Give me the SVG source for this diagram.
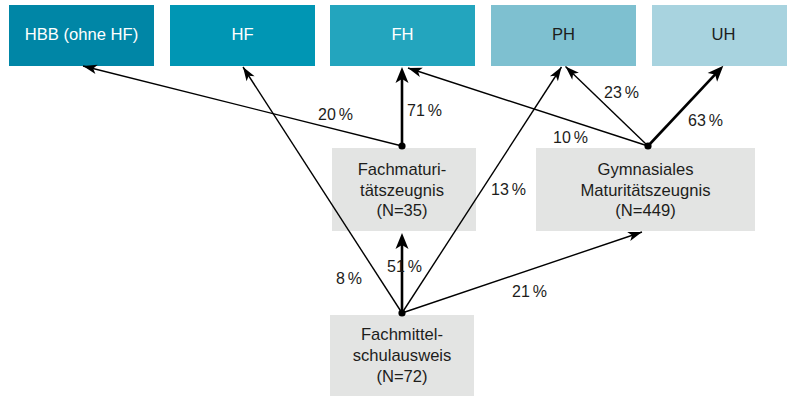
<svg xmlns="http://www.w3.org/2000/svg" width="787" height="396" viewBox="0 0 787 396">
<style>
  text { font-family: "Liberation Sans", Arial, sans-serif; font-size: 16.6px; text-anchor: middle; fill: #1d1d1b; }
  .w { fill: #ffffff; }
  .lbl { font-size: 16px; text-anchor: start; word-spacing: -1.5px; }
  .box { fill: #e3e4e3; }
  .thin { stroke: #000; stroke-width: 1.4; fill: none; marker-end: url(#ah); }
  .bold { stroke: #000; stroke-width: 2.6; fill: none; marker-end: url(#ahb); }
</style>
<defs>
  <marker id="ah" markerUnits="userSpaceOnUse" markerWidth="20" markerHeight="14" viewBox="0 -7 16 14" refX="14" refY="0" orient="auto" overflow="visible">
    <path d="M0,-4.8 L14,0 L0,4.8 L3.5,0 z" fill="#000"/>
  </marker>
  <marker id="ahb" markerUnits="userSpaceOnUse" markerWidth="24" markerHeight="18" viewBox="0 -9 20 18" refX="11" refY="0" orient="auto" overflow="visible">
    <path d="M0,-6.5 L16,0 L0,6.5 L4,0 z" fill="#000"/>
  </marker>
</defs>

<g id="node-hbb">
  <rect x="9" y="5" width="145" height="61" fill="#0086a6"/>
  <text class="w" x="81.5" y="40">HBB (ohne HF)</text>
</g>
<g id="node-hf">
  <rect x="170" y="5" width="145" height="61" fill="#0096b4"/>
  <text class="w" x="242.5" y="40">HF</text>
</g>
<g id="node-fh">
  <rect x="330" y="5" width="145" height="61" fill="#23a5be"/>
  <text class="w" x="402.5" y="40">FH</text>
</g>
<g id="node-ph">
  <rect x="491" y="5" width="145" height="61" fill="#7ec0d0"/>
  <text x="563.5" y="40">PH</text>
</g>
<g id="node-uh">
  <rect x="652" y="5" width="145" height="61" fill="#a8d3df"/>
  <text x="723.5" y="40">UH</text>
</g>

<g id="node-fachmaturitaet">
  <rect class="box" x="332" y="148" width="144" height="83"/>
  <text x="402" y="175">Fachmaturi-</text>
  <text x="402" y="195.5">tätszeugnis</text>
  <text x="402" y="216">(N=35)</text>
</g>
<g id="node-gymnasial">
  <rect class="box" x="536" y="148" width="219" height="83"/>
  <text x="645.5" y="175">Gymnasiales</text>
  <text x="645.5" y="195.5">Maturitätszeugnis</text>
  <text x="645.5" y="216">(N=449)</text>
</g>
<g id="node-fms">
  <rect class="box" x="330" y="315" width="144" height="81"/>
  <text x="402" y="340">Fachmittel-</text>
  <text x="402" y="361">schulausweis</text>
  <text x="402" y="382">(N=72)</text>
</g>

<g id="connectors">
  <path class="thin" d="M402,146 L83,66"/>
  <path class="bold" d="M402,146 L402,72"/>
  <path class="thin" d="M648,146 L408,68"/>
  <path class="thin" d="M648,146 L565.5,66.5"/>
  <path class="bold" d="M648,146 L719.9,69.4"/>
  <path class="thin" d="M402,313 L243,67"/>
  <path class="bold" d="M402,313 L402,238"/>
  <path class="thin" d="M402,313 L561.5,67"/>
  <path class="thin" d="M402,313 L642,232"/>
  <circle cx="402" cy="146" r="3.6" fill="#000"/>
  <circle cx="648" cy="146" r="3.6" fill="#000"/>
  <circle cx="402" cy="313" r="3.6" fill="#000"/>
  <text class="lbl" x="318" y="120">20 %</text>
  <text class="lbl" x="407" y="116">71 %</text>
  <text class="lbl" x="553" y="143">10 %</text>
  <text class="lbl" x="604" y="98">23 %</text>
  <text class="lbl" x="688" y="126">63 %</text>
  <text class="lbl" x="491" y="195">13 %</text>
  <text class="lbl" x="387" y="272">51 %</text>
  <text class="lbl" x="336" y="284">8 %</text>
  <text class="lbl" x="512" y="297">21 %</text>
</g>
</svg>
